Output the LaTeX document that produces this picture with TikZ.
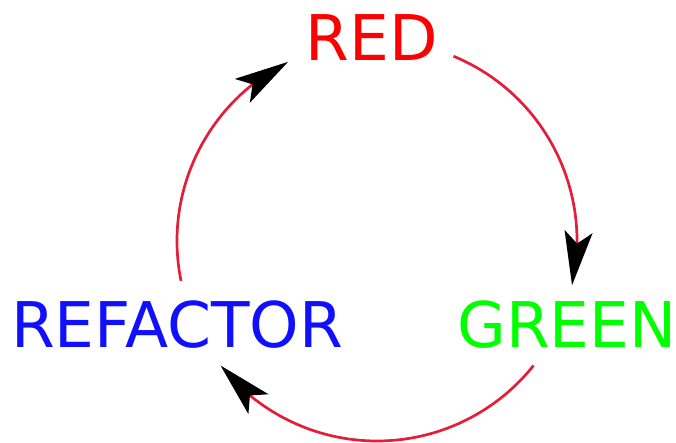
\documentclass[tikz,border=0pt]{standalone}
\usepackage{fontspec}
\setmainfont{DejaVu Sans}
\usetikzlibrary{arrows.meta,bending,calc}
\definecolor{arcred}{RGB}{226,30,58}
\definecolor{tred}{RGB}{255,0,0}
\definecolor{tgreen}{RGB}{0,255,0}
\definecolor{tblue}{RGB}{16,16,255}
\begin{document}
\begin{tikzpicture}[x=1pt,y=1pt,
  label/.style={font=\fontsize{63}{75}\selectfont, inner sep=0pt, anchor=base},
  flow/.style={draw=arcred, line width=2.7pt,
    -{Stealth[length=54pt,width=28pt,inset=12pt,color=black,flex]}}]
\useasboundingbox (0,0) rectangle (676,442);
\coordinate (c) at (377,201);
\node[label, text=tred] (red) at (372,381) {RED};
\node[label, text=tgreen] (green) at (567,95) {GREEN};
\node[label, text=tblue] (refactor) at (177,95) {REFACTOR};
\coordinate (s1) at ($(c)+(67.5:200)$);
\coordinate (s2) at ($(c)+(-38.5:200)$);
\coordinate (s3) at ($(c)+(191.5:200)$);
\draw[flow] (s1) arc[start angle=67.5, end angle=-12.8, radius=200];
\draw[flow] (s2) arc[start angle=-38.5, end angle=-141.5, radius=200];
\draw[flow] (s3) arc[start angle=191.5, end angle=116.4, radius=200];
\end{tikzpicture}
\end{document}
